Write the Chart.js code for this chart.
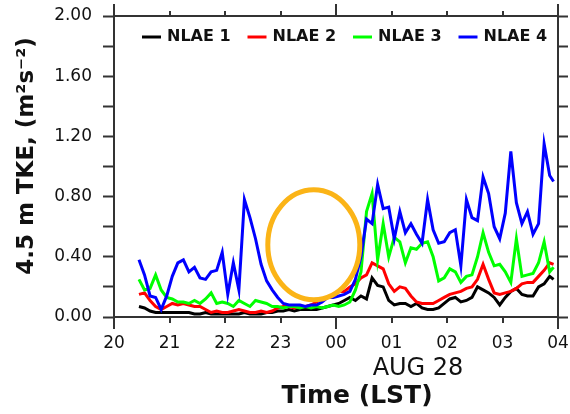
<!DOCTYPE html>
<html>
<head>
<meta charset="utf-8">
<script src="https://cdn.jsdelivr.net/npm/chart.js@4.4.1/dist/chart.umd.min.js"></script>
<style>
  html, body { margin: 0; padding: 0; background: #fff; }
  #wrap { width: 570px; height: 414px; }
</style>
</head>
<body>
<div id="wrap"><canvas id="tkeChart" width="570" height="414"></canvas></div>
<script>
// hours after 20:00 LST (Aug 27 evening -> Aug 28 morning)
const hours = [0.45, 0.55, 0.65, 0.75, 0.85, 0.95,
  1.05, 1.15, 1.25, 1.35, 1.45, 1.55, 1.65, 1.75, 1.85, 1.95,
  2.05, 2.15, 2.25, 2.35, 2.45, 2.55, 2.65, 2.75, 2.85, 2.95,
  3.05, 3.15, 3.25, 3.35, 3.45, 3.55, 3.65, 3.75, 3.85, 3.95,
  4.05, 4.15, 4.25, 4.35, 4.45, 4.55, 4.65, 4.75, 4.85, 4.95,
  5.05, 5.15, 5.25, 5.35, 5.45, 5.55, 5.65, 5.75, 5.85, 5.95,
  6.05, 6.15, 6.25, 6.35, 6.45, 6.55, 6.65, 6.75, 6.85, 6.95,
  7.05, 7.15, 7.25, 7.35, 7.45, 7.55, 7.65, 7.75, 7.85, 7.92];

const nlae1 = [0.07, 0.06, 0.04, 0.03, 0.03, 0.03,
  0.03, 0.03, 0.03, 0.03, 0.02, 0.02, 0.03, 0.02, 0.02, 0.02,
  0.02, 0.02, 0.02, 0.03, 0.02, 0.02, 0.02, 0.03, 0.03, 0.04,
  0.04, 0.05, 0.04, 0.05, 0.05, 0.05, 0.05, 0.06, 0.07, 0.08,
  0.09, 0.11, 0.13, 0.11, 0.14, 0.12, 0.26, 0.21, 0.20, 0.11,
  0.08, 0.09, 0.09, 0.07, 0.09, 0.06, 0.05, 0.05, 0.06, 0.09,
  0.12, 0.13, 0.10, 0.11, 0.13, 0.20, 0.18, 0.16, 0.13, 0.08,
  0.13, 0.17, 0.19, 0.15, 0.14, 0.14, 0.20, 0.22, 0.27, 0.25];

const nlae2 = [0.15, 0.16, 0.11, 0.07, 0.05, 0.07,
  0.09, 0.08, 0.09, 0.08, 0.07, 0.07, 0.05, 0.03, 0.04, 0.03,
  0.03, 0.04, 0.05, 0.04, 0.03, 0.03, 0.04, 0.03, 0.04, 0.06,
  0.07, 0.07, 0.06, 0.07, 0.07, 0.08, 0.10, 0.12, 0.15, 0.19,
  0.17, 0.17, 0.20, 0.22, 0.26, 0.28, 0.36, 0.34, 0.32, 0.22,
  0.17, 0.20, 0.19, 0.14, 0.10, 0.09, 0.09, 0.09, 0.11, 0.13,
  0.15, 0.16, 0.17, 0.19, 0.20, 0.25, 0.35, 0.25, 0.16, 0.15,
  0.16, 0.17, 0.19, 0.22, 0.23, 0.23, 0.27, 0.31, 0.36, 0.35];

const nlae3 = [0.25, 0.18, 0.19, 0.28, 0.18, 0.13,
  0.12, 0.10, 0.10, 0.09, 0.11, 0.09, 0.12, 0.16, 0.09, 0.10,
  0.09, 0.07, 0.11, 0.09, 0.07, 0.11, 0.10, 0.09, 0.07, 0.07,
  0.06, 0.07, 0.07, 0.06, 0.07, 0.06, 0.07, 0.06, 0.07, 0.08,
  0.07, 0.08, 0.10, 0.18, 0.30, 0.70, 0.82, 0.38, 0.62, 0.40,
  0.53, 0.50, 0.36, 0.46, 0.45, 0.49, 0.50, 0.40, 0.24, 0.26,
  0.32, 0.30, 0.23, 0.27, 0.28, 0.40, 0.56, 0.43, 0.34, 0.35,
  0.30, 0.23, 0.52, 0.27, 0.28, 0.29, 0.36, 0.50, 0.30, 0.33];

const nlae4 = [0.38, 0.28, 0.14, 0.13, 0.05, 0.14,
  0.27, 0.36, 0.38, 0.30, 0.33, 0.26, 0.25, 0.30, 0.31, 0.43,
  0.15, 0.36, 0.18, 0.78, 0.66, 0.52, 0.35, 0.24, 0.18, 0.13,
  0.09, 0.08, 0.08, 0.08, 0.07, 0.08, 0.08, 0.10, 0.13, 0.13,
  0.14, 0.15, 0.17, 0.25, 0.40, 0.65, 0.62, 0.88, 0.72, 0.73,
  0.52, 0.70, 0.56, 0.62, 0.55, 0.49, 0.78, 0.58, 0.49, 0.50,
  0.56, 0.58, 0.34, 0.78, 0.66, 0.64, 0.93, 0.82, 0.60, 0.52,
  0.69, 1.10, 0.76, 0.62, 0.70, 0.55, 0.62, 1.15, 0.94, 0.90];

const seriesNames = ['NLAE 1', 'NLAE 2', 'NLAE 3', 'NLAE 4'];
const seriesColors = ['#000000', '#ff0000', '#00ff00', '#0000ff'];
const yTicks = [0.0, 0.4, 0.8, 1.2, 1.6, 2.0];

const axisColor = '#333333';
const tickFont = { family: 'DejaVu Sans', size: 17 };

function pts(vals) {
  return hours.map((h, i) => ({ x: h, y: vals[i] }));
}

// frame, x ticks, the marked-out ellipse, legend and titles
const decorations = {
  id: 'decorations',
  afterDatasetsDraw(chart) {
    const { ctx, scales } = chart;
    const xs = scales.x, ys = scales.y;
    // orange ellipse hiding part of the record
    const cx = xs.getPixelForValue(3.6), cy = ys.getPixelForValue(0.48);
    ctx.save();
    ctx.beginPath();
    ctx.ellipse(cx, cy, 46, 55, 0, 0, Math.PI * 2);
    ctx.fillStyle = '#ffffff';
    ctx.fill();
    ctx.lineWidth = 5;
    ctx.strokeStyle = '#fbb417';
    ctx.stroke();
    ctx.restore();
  },
  afterDraw(chart) {
    const { ctx, chartArea: a, scales } = chart;
    const xs = scales.x;
    ctx.save();
    ctx.strokeStyle = axisColor;
    ctx.lineWidth = 2;
    ctx.beginPath();
    ctx.moveTo(a.left, a.top); ctx.lineTo(a.right, a.top);
    ctx.stroke();
    // hourly ticks top and bottom, longer every 4 h
    for (let h = 0; h <= 8; h++) {
      const px = Math.round(xs.getPixelForValue(h));
      const len = h % 4 === 0 ? 12 : 6;
      ctx.beginPath();
      ctx.moveTo(px, a.bottom); ctx.lineTo(px, a.bottom + len);
      ctx.moveTo(px, a.top); ctx.lineTo(px, a.top - (h % 4 === 0 ? 12 : 5));
      ctx.stroke();
    }

    // legend inside the plot, along the top
    ctx.font = 'bold 16px "DejaVu Sans"';
    ctx.textBaseline = 'middle';
    ctx.textAlign = 'left';
    let lx = a.left + 28;
    const ly = a.top + 21;
    chart.data.datasets.forEach(ds => {
      ctx.strokeStyle = ds.borderColor;
      ctx.lineWidth = 3;
      ctx.beginPath();
      ctx.moveTo(lx, ly); ctx.lineTo(lx + 19, ly);
      ctx.stroke();
      ctx.fillStyle = '#111';
      ctx.fillText(ds.label, lx + 25, ly);
      lx += 105.5;
    });

    // axis titles
    ctx.fillStyle = '#111';
    ctx.textAlign = 'center';
    ctx.font = 'bold 25px "DejaVu Sans"';
    ctx.fillText('Time (LST)', 357, 396);
    ctx.font = '24px "DejaVu Sans"';
    ctx.fillText('AUG 28', 418, 369);

    ctx.translate(27, 156);
    ctx.rotate(-Math.PI / 2);
    ctx.font = 'bold 23px "DejaVu Sans"';
    ctx.fillText('4.5 m TKE, (m\u00b2s\u207b\u00b2)', 0, 0);
    ctx.restore();
  }
};

const ctx = document.getElementById('tkeChart').getContext('2d');
const tkeChart = new Chart(ctx, {
  type: 'line',
  data: {
    datasets: seriesNames.map((name, i) => ({
      label: name,
      data: pts([nlae1, nlae2, nlae3, nlae4][i]),
      borderColor: seriesColors[i],
      backgroundColor: seriesColors[i],
      borderWidth: 3,
      pointRadius: 0,
      tension: 0,
      order: 4 - i
    }))
  },
  options: {
    responsive: false,
    animation: false,
    layout: { padding: { top: 16, left: 0, right: 0, bottom: 0 } },
    plugins: { legend: { display: false }, tooltip: { enabled: false } },
    scales: {
      x: {
        type: 'linear',
        min: 0, max: 8,
        afterFit: s => { s.height = 97; s.paddingLeft = 0; s.paddingRight = 0; },
        border: { display: true, color: axisColor, width: 2 },
        grid: { drawOnChartArea: false, drawTicks: false },
        ticks: {
          stepSize: 1, autoSkip: false, maxRotation: 0, padding: 16,
          color: '#111', font: tickFont,
          callback: v => String((20 + v) % 24).padStart(2, '0')
        }
      },
      y: {
        min: 0, max: 2,
        afterFit: s => { s.width = 114; s.paddingTop = 0; s.paddingBottom = 0; },
        border: { display: true, color: axisColor, width: 2 },
        grid: { drawOnChartArea: false, drawTicks: true, tickLength: 11, tickWidth: 2, tickColor: axisColor },
        ticks: {
          stepSize: 0.2, padding: 11, color: '#111', font: tickFont,
          callback: v => yTicks.some(t => Math.abs(t - v) < 1e-6) ? v.toFixed(2) : ''
        }
      },
      y2: {
        position: 'right',
        min: 0, max: 2,
        afterFit: s => { s.width = 12; s.paddingTop = 0; s.paddingBottom = 0; },
        border: { display: true, color: axisColor, width: 2 },
        grid: { drawOnChartArea: false, drawTicks: true, tickLength: 10, tickWidth: 2, tickColor: axisColor },
        ticks: { stepSize: 0.2, display: false }
      }
    }
  },
  plugins: [decorations]
});
</script>
</body>
</html>
